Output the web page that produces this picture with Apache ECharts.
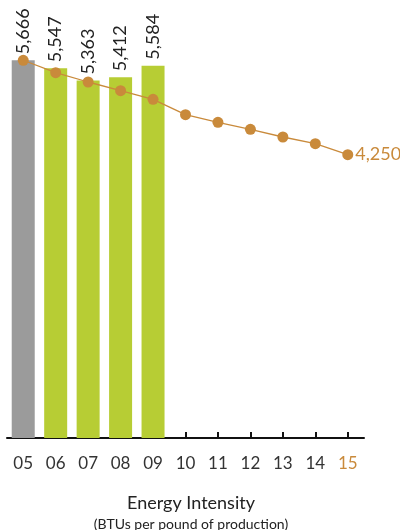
<!DOCTYPE html>
<html>

<head>
    <meta charset="UTF-8">
    <title>Energy Intensity</title>
    <script type="text/javascript" src="https://cdn.jsdelivr.net/npm/echarts@6/dist/echarts.min.js"></script>
</head>

<body style="margin: 0;padding: 0;">
    <div id="container" style="width:400px; height:530px;"></div>
    <script>
        // years on the axis
        var years = ['05', '06', '07', '08', '09', '10', '11', '12', '13', '14', '15'];
        // actual energy intensity (bars)
        var actual = [5666, 5547, 5363, 5412, 5584];
        // target path (line)
        var target = [5666, 5480, 5340, 5210, 5080, 4850, 4735, 4630, 4515, 4415, 4250];

        var gray = '#9b9b9b';
        var green = '#b7cd34';
        var orange = '#c98a3b';
        var font = 'Lato';

        function fmt(v) {
            return v.toLocaleString('en-US');
        }

        var chart = echarts.init(document.getElementById('container'), null, {
            renderer: 'canvas'
        });

        var barData = actual.map(function (v, i) {
            return {
                value: v,
                itemStyle: { color: i === 0 ? gray : green }
            };
        });

        var lineData = target.map(function (v, i) {
            if (i === target.length - 1) {
                return {
                    value: v,
                    label: {
                        show: true,
                        position: 'right',
                        distance: 2,
                        formatter: function (p) { return fmt(p.value); },
                        color: orange,
                        fontSize: 18,
                        fontFamily: font
                    }
                };
            }
            return v;
        });

        var option = {
            animation: false,
            title: [{
                text: 'Energy Intensity',
                left: 186,
                top: 489,
                textAlign: 'center',
                textStyle: { fontFamily: font, fontSize: 18, fontWeight: 'normal', color: '#222' }
            }, {
                text: '(BTUs per pound of production)',
                left: 186,
                top: 512,
                textAlign: 'center',
                textStyle: { fontFamily: font, fontSize: 14, fontWeight: 'normal', color: '#222' }
            }],
            grid: {
                left: 7,
                right: 36,
                top: 38,
                bottom: 92
            },
            xAxis: {
                type: 'category',
                data: years,
                boundaryGap: true,
                z: 3,
                axisLine: { lineStyle: { color: '#111', width: 2 } },
                axisTick: {
                    show: true,
                    alignWithLabel: true,
                    inside: true,
                    length: 6,
                    lineStyle: { color: '#111', width: 2 }
                },
                axisLabel: {
                    margin: 17,
                    fontSize: 17,
                    fontFamily: font,
                    color: function (value, index) {
                        return index === years.length - 1 ? orange : '#333';
                    }
                }
            },
            yAxis: {
                type: 'value',
                min: 0,
                max: 6000,
                show: false,
                splitLine: { show: false }
            },
            series: [{
                name: 'Actual',
                type: 'bar',
                barWidth: 23,
                z: 4,
                data: barData,
                label: {
                    show: true,
                    position: 'top',
                    rotate: 90,
                    align: 'left',
                    verticalAlign: 'middle',
                    distance: 4,
                    offset: [2, 0],
                    formatter: function (p) { return fmt(p.value); },
                    fontSize: 18,
                    fontFamily: font,
                    color: '#222'
                }
            }, {
                name: 'Target',
                type: 'line',
                z: 5,
                data: lineData,
                symbol: 'circle',
                symbolSize: 11,
                lineStyle: { color: orange, width: 1.3 },
                itemStyle: { color: orange }
            }]
        };

        chart.setOption(option);
    </script>
</body>

</html>
